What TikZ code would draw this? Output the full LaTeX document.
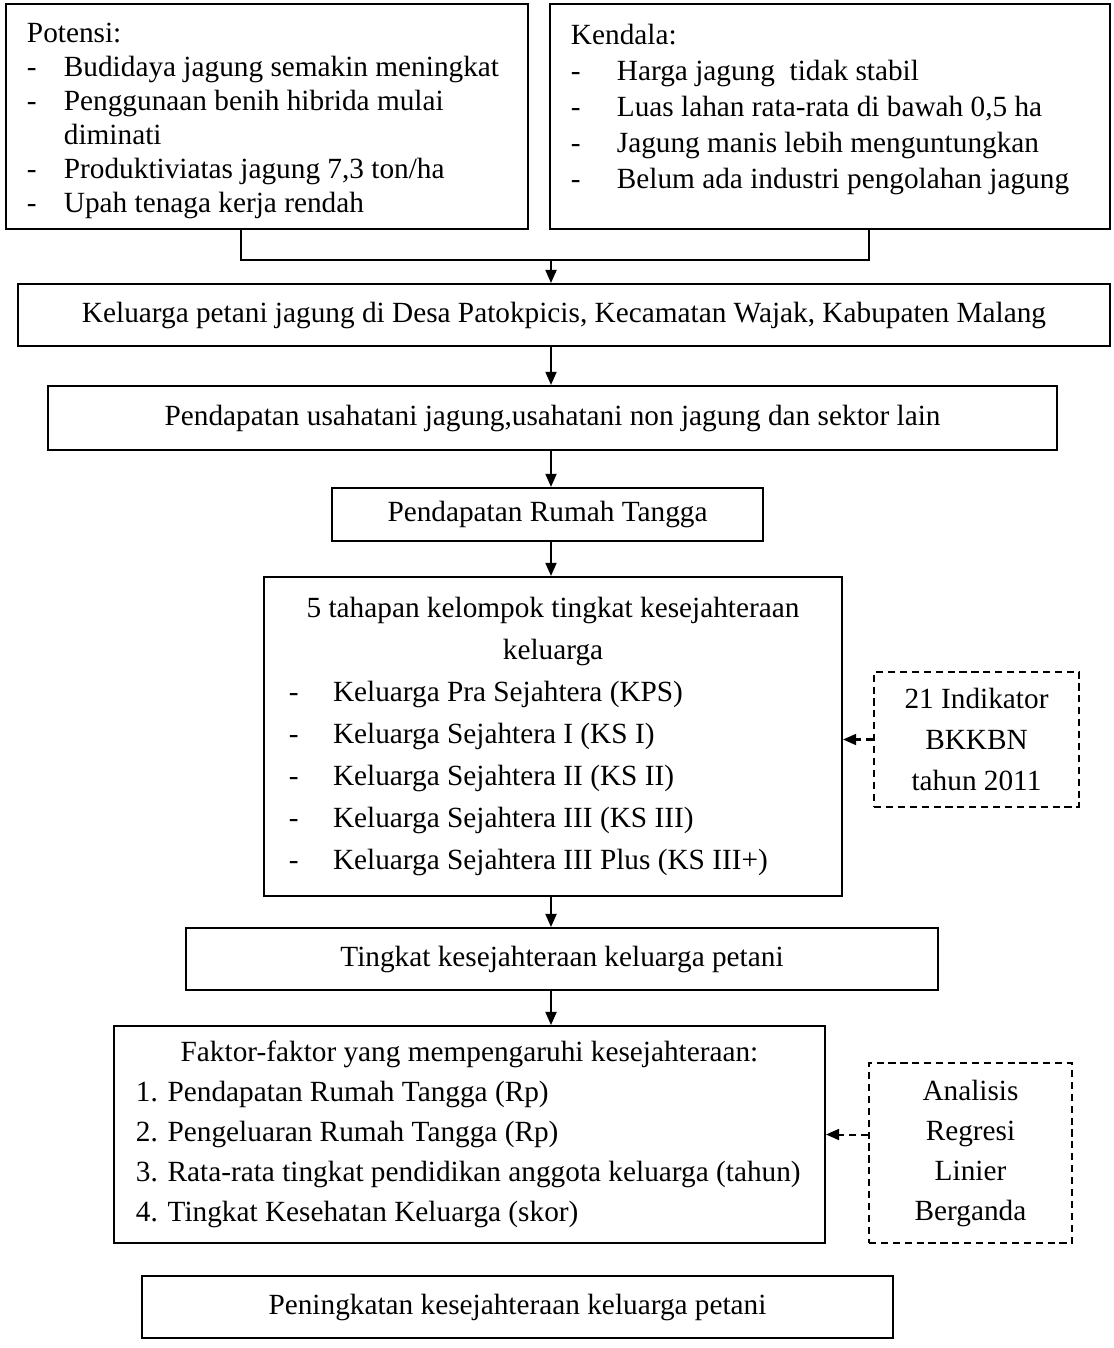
\documentclass[tikz,border=0pt]{standalone}
\usepackage{fontspec}
\setmainfont{Liberation Serif}
\usetikzlibrary{arrows.meta}
\newcommand{\dashitem}[2]{\makebox[#1][l]{-}#2}
\newcommand{\midline}[1]{\makebox[\hsize]{#1}}

\begin{document}
\begin{tikzpicture}[x=0.42pt,y=-0.42pt,
		box/.style={draw,line width=0.85pt,inner sep=0pt,font=\fontsize{12.3}{14.4}\selectfont,
			execute at begin node={\spaceskip=0pt\xspaceskip=0pt}},
		dashbox/.style={box,dash pattern=on 3pt off 2pt,align=center},
		flow/.style={-{Triangle[length=5.5pt,width=4.6pt]},line width=0.85pt},
		hint/.style={flow,dash pattern=on 3pt off 2pt}]
	\useasboundingbox (0,0) rectangle (1113,1348);
	\node[box,minimum width=219.2pt,minimum height=94.5pt,text width=201.6pt,align=left,font=\fontsize{12.3}{14.3}\selectfont] (potensi) at (267,116.5) {\rule{0pt}{11.6pt}Potensi:\\
		\dashitem{15.5pt}{Budidaya jagung semakin meningkat}\\
		\dashitem{15.5pt}{Penggunaan benih hibrida mulai}\\
		\hspace*{15.5pt}diminati\\
		\dashitem{15.5pt}{Produktiviatas jagung 7,3 ton/ha}\\
		\dashitem{15.5pt}{Upah tenaga kerja rendah}};
	\node[box,minimum width=235.2pt,minimum height=94.5pt,text width=217.6pt,align=left,font=\fontsize{12.3}{15.1}\selectfont] (kendala) at (830,116.5) {Kendala:\\
		\dashitem{19.3pt}{Harga jagung\ \ tidak stabil}\\
		\dashitem{19.3pt}{Luas lahan rata-rata di bawah 0,5 ha}\\
		\dashitem{19.3pt}{Jagung manis lebih menguntungkan}\\
		\dashitem{19.3pt}{Belum ada industri pengolahan jagung}\rule[-8.6pt]{0pt}{0pt}};
	\node[box,minimum width=458.6pt,minimum height=26pt] (keluarga) at (564,315) {Keluarga petani jagung di Desa Patokpicis, Kecamatan Wajak, Kabupaten Malang};
	\node[box,minimum width=423.8pt,minimum height=26.9pt] (usaha) at (552.5,418) {Pendapatan usahatani jagung,usahatani non jagung dan sektor lain};
	\node[box,minimum width=181pt,minimum height=22.3pt] (rumah) at (547.5,514.5) {Pendapatan Rumah Tangga};
	\node[box,minimum width=242.8pt,minimum height=134pt,text width=221.8pt,align=left,font=\fontsize{12.3}{17.6}\selectfont] (tahapan) at (553,736.5) {\midline{5 tahapan kelompok tingkat kesejahteraan}\\
		\midline{keluarga}\\
		\dashitem{18.5pt}{Keluarga Pra Sejahtera (KPS)}\\
		\dashitem{18.5pt}{Keluarga Sejahtera I (KS I)}\\
		\dashitem{18.5pt}{Keluarga Sejahtera II (KS II)}\\
		\dashitem{18.5pt}{Keluarga Sejahtera III (KS III)}\\
		\dashitem{18.5pt}{Keluarga Sejahtera III Plus (KS III+)}};
	\node[dashbox,minimum width=86.1pt,minimum height=56.7pt,font=\fontsize{12.3}{17.2}\selectfont] (indikator) at (976.5,739.5) {21 Indikator\\BKKBN\\tahun 2011};
	\node[box,minimum width=315.8pt,minimum height=26pt] (tingkat) at (562,959) {Tingkat kesejahteraan keluarga petani};
	\node[box,minimum width=298.6pt,minimum height=91.1pt,text width=280.2pt,align=left,font=\fontsize{12.3}{16.8}\selectfont] (faktor) at (469.5,1134.5) {\midline{Faktor-faktor yang mempengaruhi kesejahteraan:}\\
		\mbox{1. Pendapatan Rumah Tangga (Rp)}\\
		\mbox{2. Pengeluaran Rumah Tangga (Rp)}\\
		\mbox{3. Rata-rata tingkat pendidikan anggota keluarga (tahun)}\\
		\mbox{4. Tingkat Kesehatan Keluarga (skor)}};
	\node[dashbox,minimum width=85.3pt,minimum height=75.6pt,font=\fontsize{12.3}{16.8}\selectfont] (analisis) at (970.5,1153) {Analisis\\Regresi\\Linier\\Berganda};
	\node[box,minimum width=315.4pt,minimum height=26pt] (naik) at (517.5,1307) {Peningkatan kesejahteraan keluarga petani};
	\coordinate (spine) at (551,0);
	\coordinate (bl) at (241,260);
	\coordinate (br) at (869,260);
	\coordinate (brk) at (551,260);
	\draw[line width=0.85pt] (potensi.south -| bl) -- (bl) -- (br) -- (kendala.south -| br);
	\draw[flow] (brk) -- (keluarga.north -| brk);
	\draw[flow] (keluarga.south -| spine) -- (usaha.north -| spine);
	\draw[flow] (usaha.south -| spine) -- (rumah.north -| spine);
	\draw[flow] (rumah.south -| spine) -- (tahapan.north -| spine);
	\draw[flow] (tahapan.south -| spine) -- (tingkat.north -| spine);
	\draw[flow] (tingkat.south -| spine) -- (faktor.north -| spine);
	\draw[hint] (indikator.west) -- (tahapan.east |- indikator.west);
	\draw[hint] (analisis.west |- faktor.east) -- (faktor.east);
\end{tikzpicture}
\end{document}
